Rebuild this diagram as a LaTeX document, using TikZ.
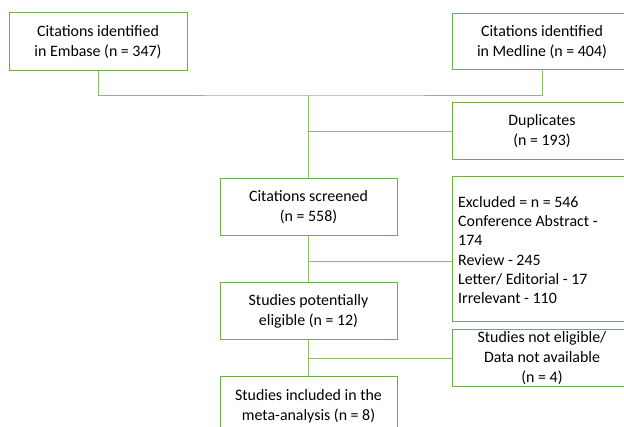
\documentclass[tikz,border=0pt]{standalone}
\usepackage{fontspec}
\setmainfont{Carlito}
\definecolor{boxgreen}{RGB}{112,173,71}
\definecolor{linegreen}{RGB}{140,192,104}
\begin{document}
\begin{tikzpicture}[x=1pt,y=-1pt,
  box/.style={draw=boxgreen,line width=1pt,rectangle,inner sep=0pt,align=center,
    font=\fontsize{15.9}{20}\selectfont},
  conn/.style={draw=linegreen,line width=0.9pt}]
\path[use as bounding box,clip] (0,0) rectangle (624,427);
\node[box,minimum width=178,minimum height=58] (embase) at (98,42) {Citations identified\\in Embase (n = 347)};
\node[box,minimum width=180,minimum height=56] (medline) at (542,42) {Citations identified\\in Medline (n = 404)};
\node[box,minimum width=180,minimum height=57] (dup) at (542,131.5) {Duplicates\\(n = 193)};
\node[box,minimum width=177,minimum height=57] (screened) at (308.5,207.5) {Citations screened\\(n = 558)};
\node[box,minimum width=180,minimum height=145] (excl) at (542,249.5) {};
\node[anchor=west,align=left,inner sep=0pt,font=\fontsize{15.9}{19.3}\selectfont] (excltext) at (458,250)
  {Excluded = n = 546\\Conference Abstract -\\174\\Review - 245\\Letter/ Editorial - 17\\Irrelevant - 110};
\node[box,minimum width=177,minimum height=57] (elig) at (308.5,311.5) {Studies potentially\\eligible (n = 12)};
\node[box,minimum width=180,minimum height=57] (noteli) at (542,358.5) {Studies not eligible/\\Data not available\\(n = 4)};
\node[box,minimum width=177,minimum height=59] (incl) at (308.5,406.5) {Studies included in the\\meta-analysis (n = 8)};
\coordinate (j1) at (308.5,95);
\draw[conn] (embase.south) |- (j1) -| (medline.south);
\draw[conn] (j1) -- (screened.north);
\draw[conn] (j1 |- dup.west) -- (dup.west);
\draw[conn] (screened.south) -- (elig.north);
\coordinate (j2) at (308.5,261);
\draw[conn] (j2) -- (excl.west |- j2);
\draw[conn] (elig.south) -- (incl.north);
\draw[conn] (elig.south |- noteli.west) -- (noteli.west);
\end{tikzpicture}
\end{document}
